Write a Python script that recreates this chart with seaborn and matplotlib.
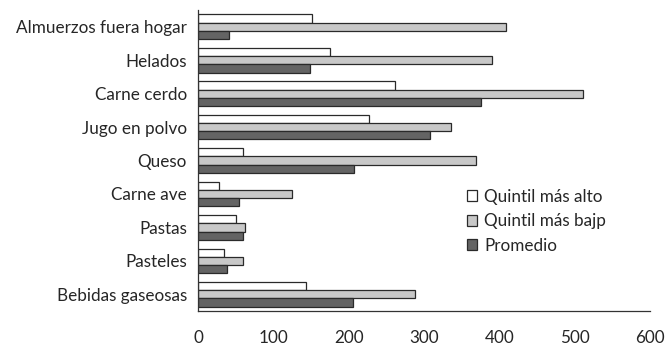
import matplotlib
matplotlib.use("Agg")
import matplotlib.pyplot as plt
import seaborn as sns
import pandas as pd
import numpy as np

categories = ["Almuerzos fuera hogar", "Helados", "Carne cerdo", "Jugo en polvo",
              "Queso", "Carne ave", "Pastas", "Pasteles", "Bebidas gaseosas"]
series = ["Quintil más alto", "Quintil más bajp", "Promedio"]
quintil_alto = [151, 175, 261, 227, 59, 27, 50, 34, 143]
quintil_bajo = [409, 390, 510, 336, 369, 124, 62, 60, 288]
promedio = [41, 148, 375, 307, 207, 54, 60, 38, 205]
x_ticks = [0, 100, 200, 300, 400, 500, 600]

df = pd.DataFrame({
    "categoria": categories * 3,
    "serie": np.repeat(series, len(categories)),
    "valor": quintil_alto + quintil_bajo + promedio,
})

sns.set_style("white")
plt.rcParams["font.family"] = ["Lato", "DejaVu Sans"]
FS = 12.3

fig, ax = plt.subplots(figsize=(6.65, 3.46), dpi=100)
fig.subplots_adjust(left=0.298, right=0.978, top=0.971, bottom=0.101)

palette = {"Quintil más alto": "#ffffff", "Quintil más bajp": "#c8c8c8", "Promedio": "#646464"}
sns.barplot(data=df, y="categoria", x="valor", hue="serie", order=categories,
            hue_order=series, palette=palette, orient="h", width=0.74,
            edgecolor="#2a2a2a", linewidth=0.9, ax=ax, saturation=1)

ax.set_xlim(0, 600)
ax.set_ylim(len(categories) - 0.5, -0.5)
ax.set_xticks(x_ticks)
ax.set_xticklabels([str(t) for t in x_ticks], fontsize=FS)
ax.set_yticks(range(len(categories)))
ax.set_yticklabels(categories, fontsize=FS)
ax.set_yticks(np.arange(-0.5, len(categories), 1.0), minor=True)
ax.tick_params(axis="y", which="major", length=0, pad=8)
ax.tick_params(axis="y", which="minor", length=5, width=0.9, color="#333333", direction="out")
ax.tick_params(axis="x", which="major", length=6, width=0.9, color="#333333",
               direction="inout", pad=11)
ax.set_xlabel("")
ax.set_ylabel("")
for s in ["top", "right"]:
    ax.spines[s].set_visible(False)
for s in ["left", "bottom"]:
    ax.spines[s].set_color("#333333")
    ax.spines[s].set_linewidth(0.9)

leg = ax.legend(loc="upper left", bbox_to_anchor=(0.576, 0.435), frameon=False,
                fontsize=FS, handlelength=0.6, handleheight=0.6, handletextpad=0.4,
                labelspacing=0.5, borderpad=0)

fig.savefig("out.png", dpi=100, facecolor="white")
